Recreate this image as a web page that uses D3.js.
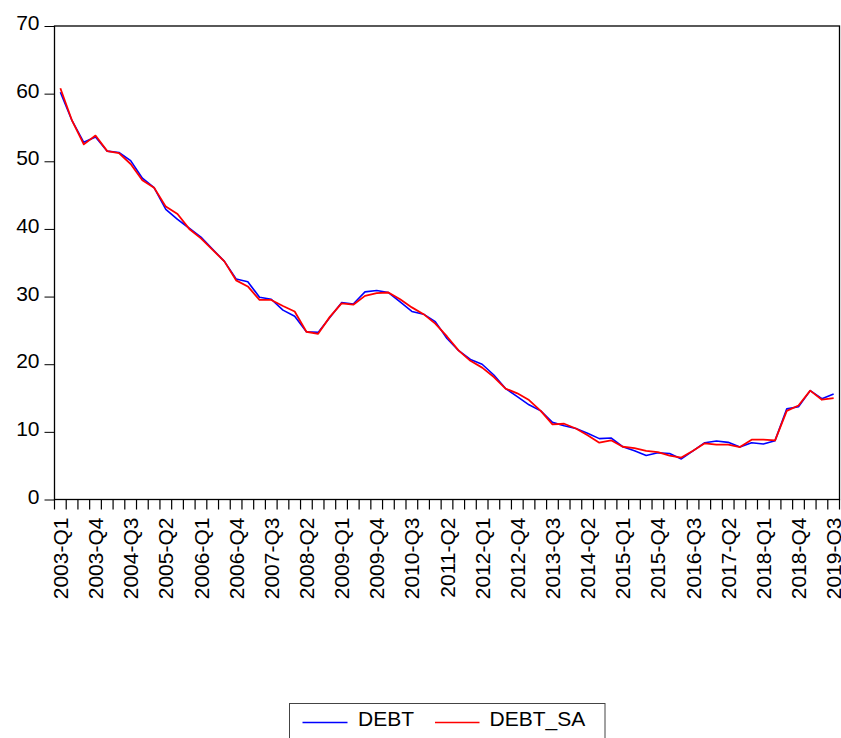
<!DOCTYPE html>
<html>
<head>
<meta charset="utf-8">
<script src="https://cdn.jsdelivr.net/npm/d3@7"></script>
<style>
  html, body { margin: 0; padding: 0; background: #fff; }
  svg { display: block; font-family: "Liberation Sans", Arial, sans-serif; }
</style>
</head>
<body>
<svg id="chart" width="841" height="738"></svg>
<script>
// Quarterly observations, 2003-Q1 .. 2019-Q3
const startYear = 2003, endYear = 2019, endQuarter = 3;
const quarters = [];
for (let yr = startYear; yr <= endYear; yr++) {
  for (let q = 1; q <= 4; q++) {
    if (yr === endYear && q > endQuarter) break;
    quarters.push(yr + "-Q" + q);
  }
}

const debt = [
  60.2, 56.0, 52.8, 53.6, 51.5, 51.3, 50.1, 47.5, 46.1, 42.9, 41.4, 40.1,
  38.8, 37.0, 35.2, 32.6, 32.2, 29.9, 29.6, 28.0, 27.1, 24.8, 24.7, 26.9,
  29.1, 28.9, 30.7, 30.9, 30.6, 29.2, 27.8, 27.4, 26.3, 23.8, 22.0, 20.7,
  20.0, 18.4, 16.4, 15.2, 14.0, 13.1, 11.4, 10.9, 10.5, 9.8, 9.0, 9.1,
  7.8, 7.2, 6.5, 6.9, 6.8, 6.0, 7.2, 8.4, 8.65, 8.45, 7.75, 8.4,
  8.2, 8.7, 13.4, 13.7, 16.1, 14.9, 15.6
];

const debtSA = [
  60.8, 56.0, 52.5, 53.8, 51.5, 51.2, 49.6, 47.2, 46.1, 43.3, 42.2, 40.0,
  38.6, 36.9, 35.2, 32.4, 31.5, 29.5, 29.5, 28.6, 27.8, 24.8, 24.5, 27.0,
  29.0, 28.8, 30.1, 30.5, 30.6, 29.6, 28.4, 27.4, 26.0, 24.1, 22.0, 20.5,
  19.5, 18.1, 16.4, 15.7, 14.7, 13.1, 11.1, 11.2, 10.5, 9.5, 8.4, 8.75,
  7.8, 7.6, 7.2, 7.0, 6.5, 6.2, 7.2, 8.3, 8.1, 8.1, 7.75, 8.85,
  8.85, 8.75, 13.1, 13.9, 16.1, 14.75, 15.0
];

const xTickLabels = [
  "2003-Q1", "2003-Q4", "2004-Q3", "2005-Q2", "2006-Q1", "2006-Q4",
  "2007-Q3", "2008-Q2", "2009-Q1", "2009-Q4", "2010-Q3", "2011-Q2",
  "2012-Q1", "2012-Q4", "2013-Q3", "2014-Q2", "2015-Q1", "2015-Q4",
  "2016-Q3", "2017-Q2", "2018-Q1", "2018-Q4", "2019-Q3"
];
const yTicks = [0, 10, 20, 30, 40, 50, 60, 70];

const seriesNames = ["DEBT", "DEBT_SA"];
const seriesColors = ["#0000ff", "#ff0000"];

const svg = d3.select("#chart");
const plotLeft = 54.5, plotRight = 839.5, plotTop = 26, plotBottom = 499.5;
const fontSize = 21;

const x = d3.scaleBand().domain(quarters).range([plotLeft, plotRight]).paddingInner(0).paddingOuter(0);
const y = d3.scaleLinear().domain([0, 70]).range([plotBottom, plotTop]);
const cx = q => x(q) + x.bandwidth() / 2;

// Y axis
const yAxis = svg.append("g")
  .attr("transform", `translate(${plotLeft},0)`)
  .call(d3.axisLeft(y).tickValues(yTicks).tickSize(10).tickPadding(5));
yAxis.select(".domain").remove();
yAxis.selectAll(".tick line").attr("stroke", "#000");
yAxis.selectAll(".tick text")
  .attr("font-size", fontSize)
  .attr("font-family", "Liberation Sans, Arial, sans-serif")
  .attr("fill", "#000")
  .attr("dy", "0.17em");

// X axis labels (one every three quarters, centred in their bands)
const xAxis = svg.append("g")
  .attr("transform", `translate(0,${plotBottom})`)
  .call(d3.axisBottom(x).tickValues(xTickLabels).tickSize(0).tickPadding(0));
xAxis.select(".domain").remove();
xAxis.selectAll(".tick text")
  .attr("font-size", fontSize)
  .attr("font-family", "Liberation Sans, Arial, sans-serif")
  .attr("fill", "#000")
  .attr("text-anchor", "end")
  .attr("transform", "rotate(-90)")
  .attr("x", -18)
  .attr("y", 0)
  .attr("dy", "0.36em");

// Tick marks on band boundaries
const edges = quarters.map(q => x(q)).concat([plotRight]);
svg.append("g").selectAll("line")
  .data(edges)
  .join("line")
  .attr("x1", d => d).attr("x2", d => d)
  .attr("y1", plotBottom).attr("y2", plotBottom + 10)
  .attr("stroke", "#000").attr("stroke-width", 1.2);

// Plot frame
svg.append("rect")
  .attr("x", plotLeft).attr("y", plotTop)
  .attr("width", plotRight - plotLeft).attr("height", plotBottom - plotTop)
  .attr("fill", "none").attr("stroke", "#000").attr("stroke-width", 1.3);

// Series lines
const line = d3.line()
  .x((d, i) => cx(quarters[i]))
  .y(d => y(d));

[debt, debtSA].forEach((vals, k) => {
  svg.append("path")
    .datum(vals)
    .attr("fill", "none")
    .attr("stroke", seriesColors[k])
    .attr("stroke-width", k === 0 ? 1.6 : 1.8)
    .attr("stroke-linejoin", "round")
    .attr("d", line);
});

// Legend
const legend = svg.append("g");
legend.append("rect")
  .attr("x", 289.5).attr("y", 703.5)
  .attr("width", 315.5).attr("height", 60)
  .attr("fill", "#fff").attr("stroke", "#444").attr("stroke-width", 1);
const legendItems = [
  { x1: 302.5, x2: 347.5, tx: 358 },
  { x1: 435, x2: 479.5, tx: 489.5 }
];
legendItems.forEach((it, k) => {
  legend.append("line")
    .attr("x1", it.x1).attr("x2", it.x2)
    .attr("y1", 722.5).attr("y2", 722.5)
    .attr("stroke", seriesColors[k]).attr("stroke-width", 1.6);
  legend.append("text")
    .attr("x", it.tx).attr("y", 726)
    .attr("font-size", fontSize)
    .attr("fill", "#000")
    .text(seriesNames[k]);
});
</script>
</body>
</html>
